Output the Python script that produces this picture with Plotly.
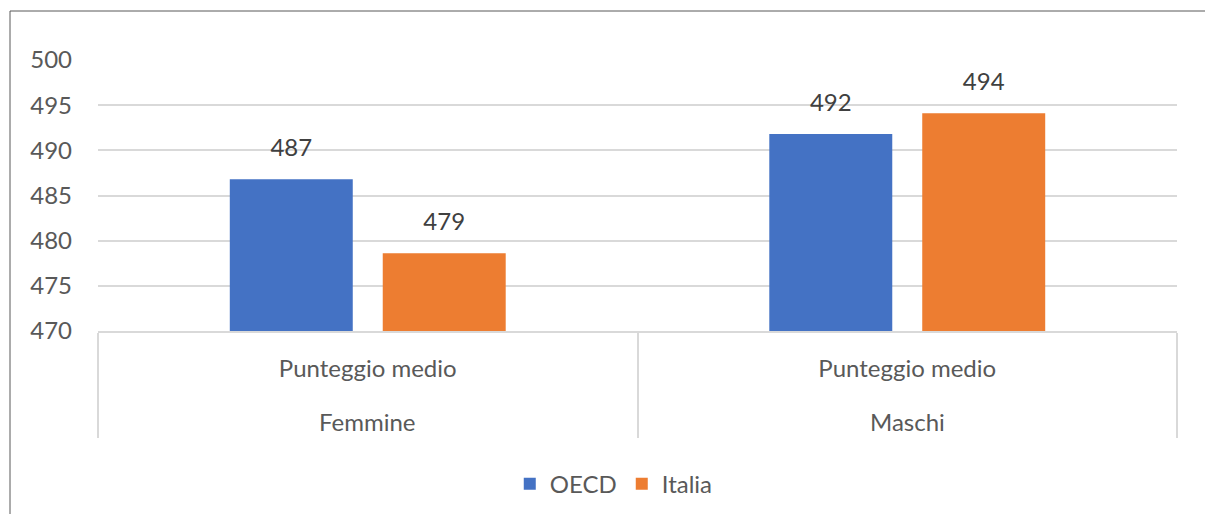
import plotly.graph_objects as go

groups = ["Femmine", "Maschi"]
sub = ["Punteggio medio", "Punteggio medio"]
series = ["OECD", "Italia"]
oecd = [486.8, 491.8]
italia = [478.6, 494.1]
colors = ["#4472C4", "#ED7D31"]
yticks = [470, 475, 480, 485, 490, 495, 500]

FONT = "Lato"
FS = 24
GRID = "#d9d9d9"

fig = go.Figure()
for name, vals, col in zip(series, [oecd, italia], colors):
    fig.add_trace(go.Bar(name=name, x=groups, y=vals, marker_color=col,
                         marker_line_width=0, offsetgroup=name))
for name, vals in zip(series, [oecd, italia]):
    fig.add_trace(go.Scatter(x=groups, y=vals, mode="markers+text", showlegend=False,
                             text=[f"{v:.0f}" for v in vals], textposition="top center",
                             marker=dict(size=26, opacity=0), offsetgroup=name,
                             textfont=dict(family=FONT, size=FS, color="#404040"),
                             cliponaxis=False, hoverinfo="skip"))

fig.update_layout(
    width=1205, height=514,
    margin=dict(l=98, r=28, t=60, b=183, autoexpand=False),
    paper_bgcolor="white", plot_bgcolor="white",
    barmode="group", bargap=0.433, bargroupgap=0.196,
    scattermode="group", scattergap=0.433,
    font=dict(family=FONT, size=FS, color="#595959"),
    legend=dict(orientation="h", x=0.478, xanchor="center", y=-0.565, yanchor="middle",
                font=dict(family=FONT, size=FS, color="#595959"), itemwidth=30,
                traceorder="normal"),
    showlegend=True,
    xaxis=dict(type="category", categoryarray=groups, tickvals=groups, ticktext=sub,
               showline=True, linecolor=GRID, linewidth=1.5, automargin=False,
               ticks="outside", tickson="boundaries", ticklen=105, tickwidth=1.5,
               tickcolor=GRID, showgrid=False, ticklabelstandoff=15,
               tickfont=dict(family=FONT, size=FS, color="#595959")),
)
fig.update_yaxes(range=[470, 500], tickvals=yticks, showgrid=True, gridcolor=GRID,
                 gridwidth=1.5, zeroline=False, showline=False, ticks="", automargin=False,
                 ticklabelstandoff=25, tickfont=dict(family=FONT, size=FS, color="#595959"))

# outer category level labels
for g in groups:
    fig.add_annotation(x=g, xref="x", y=(331 - 421) / 271, yref="paper", yanchor="middle",
                       text=g, showarrow=False,
                       font=dict(family=FONT, size=FS, color="#595959"))

fig.add_shape(type="rect", xref="paper", yref="paper",
              x0=(10 - 98) / 1079, x1=1.2, y0=-1.0, y1=(331 - 11) / 271,
              line=dict(color="#595959", width=1), fillcolor="rgba(0,0,0,0)", layer="below")

fig.write_html("out.html")
